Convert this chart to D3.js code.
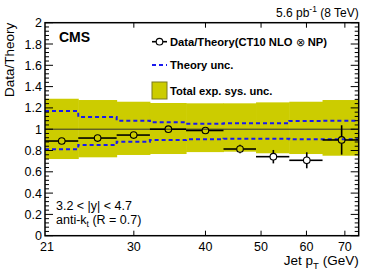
<!DOCTYPE html>
<html>
<head>
<meta charset="utf-8">
<script src="https://cdn.jsdelivr.net/npm/d3@7/dist/d3.min.js"></script>
<style>
  body { margin: 0; background: #fff; }
  svg { display: block; font-family: "Liberation Sans", Arial, sans-serif; }
</style>
</head>
<body>
<svg id="chart" width="374" height="270"></svg>
<script>
// bin edges of the jet pT bins (GeV)
var binEdges = [21, 24, 28, 32, 37, 43, 49, 56, 64, 74];
// data / theory points
var ptCenters = [22.46, 25.94, 29.98, 34.46, 39.99, 45.95, 52.53, 60.07, 69.1];
var ratio     = [0.889, 0.917, 0.945, 1.0, 0.988, 0.814, 0.742, 0.708, 0.899];
var statErr   = [0.012, 0.012, 0.018, 0.03, 0.022, 0.04, 0.063, 0.075, 0.138];
// total experimental systematic band
var sysUp   = [1.286, 1.274, 1.258, 1.246, 1.243, 1.243, 1.252, 1.258, 1.274];
var sysDown = [0.720, 0.736, 0.758, 0.767, 0.785, 0.789, 0.774, 0.767, 0.751];
// theory uncertainty
var thUp   = [1.171, 1.115, 1.080, 1.065, 1.052, 1.055, 1.055, 1.077, 1.080];
var thDown = [0.811, 0.852, 0.883, 0.899, 0.905, 0.911, 0.911, 0.905, 0.905];

var xTickVals = [21, 30, 40, 50, 60, 70];
var yMajor = d3.range(0, 2.0001, 0.2);
var yMinor = d3.range(0, 2.0001, 0.04);

var yellow = "#cccc00";
var blue = "#1a1aee";

var svg = d3.select("#chart");
var pLeft = 45, pRight = 358.7, pTop = 22.7, pBottom = 235.7;

var x = d3.scaleLog().domain([21, 74]).range([pLeft, pRight]);
var y = d3.scaleLinear().domain([0, 2]).range([pBottom, pTop]);

var bins = binEdges.slice(0, -1).map(function(lo, i) {
  return { lo: lo, hi: binEdges[i + 1], up: sysUp[i], down: sysDown[i], tu: thUp[i], td: thDown[i] };
});

// systematic band
svg.append("g").selectAll("rect").data(bins).join("rect")
  .attr("x", d => x(d.lo))
  .attr("width", d => x(d.hi) - x(d.lo) + 0.5)
  .attr("y", d => y(d.up))
  .attr("height", d => y(d.down) - y(d.up))
  .attr("fill", yellow);

// line at unity
svg.append("line")
  .attr("x1", pLeft).attr("x2", pRight)
  .attr("y1", y(1)).attr("y2", y(1))
  .attr("stroke", "#333").attr("stroke-width", 1);

// theory uncertainty, dashed
function stepPath(key) {
  var p = "";
  bins.forEach(function(d, i) {
    p += (i == 0 ? "M" : "L") + x(d.lo) + "," + y(d[key]) + "L" + x(d.hi) + "," + y(d[key]);
  });
  return p;
}
["tu", "td"].forEach(function(k) {
  svg.append("path").attr("d", stepPath(k))
    .attr("fill", "none").attr("stroke", blue)
    .attr("stroke-width", 2).attr("stroke-dasharray", "4,3");
});

// data points
var r = 3.3;
var pts = ptCenters.map(function(c, i) {
  return { c: c, v: ratio[i], e: statErr[i], lo: binEdges[i], hi: binEdges[i + 1] };
});
var gp = svg.append("g").attr("stroke", "#000").attr("stroke-width", 1.6);
pts.forEach(function(d) {
  var cx = x(d.c), cy = y(d.v);
  gp.append("line").attr("x1", x(d.lo)).attr("x2", cx - r).attr("y1", cy).attr("y2", cy);
  gp.append("line").attr("x1", cx + r).attr("x2", x(d.hi)).attr("y1", cy).attr("y2", cy);
  if (y(d.v - d.e) - cy > r) {
    gp.append("line").attr("x1", cx).attr("x2", cx).attr("y1", cy - r).attr("y2", y(d.v + d.e));
    gp.append("line").attr("x1", cx).attr("x2", cx).attr("y1", cy + r).attr("y2", y(d.v - d.e));
  }
  gp.append("circle").attr("cx", cx).attr("cy", cy).attr("r", r)
    .attr("fill", "none").attr("stroke-width", 1.1);
});

// frame
svg.append("rect").attr("x", pLeft).attr("y", pTop)
  .attr("width", pRight - pLeft).attr("height", pBottom - pTop)
  .attr("fill", "none").attr("stroke", "#000").attr("stroke-width", 1.5);

// y ticks (left and right)
var ticks = svg.append("g").attr("stroke", "#000").attr("stroke-width", 1);
yMinor.forEach(function(v, i) {
  var major = i % 5 == 0;
  var len = major ? 8 : 4;
  ticks.append("line").attr("x1", pLeft).attr("x2", pLeft + len).attr("y1", y(v)).attr("y2", y(v));
  ticks.append("line").attr("x1", pRight).attr("x2", pRight - len).attr("y1", y(v)).attr("y2", y(v));
});
// x ticks (bottom and top)
xTickVals.slice(1).forEach(function(v) {
  ticks.append("line").attr("x1", x(v)).attr("x2", x(v)).attr("y1", pBottom).attr("y2", pBottom - 5);
  ticks.append("line").attr("x1", x(v)).attr("x2", x(v)).attr("y1", pTop).attr("y2", pTop + 5);
});

// tick labels
var fmt = d3.format("~g");
svg.append("g").selectAll("text").data(yMajor).join("text")
  .attr("x", 42).attr("y", d => y(d)).attr("dy", "0.36em")
  .attr("text-anchor", "end").attr("font-size", 12.5)
  .text(d => fmt(+d.toFixed(1)));
svg.append("g").selectAll("text").data(xTickVals).join("text")
  .attr("x", d => x(d) + (d == 21 ? 2 : 0)).attr("y", 251)
  .attr("text-anchor", "middle").attr("font-size", 12.5)
  .text(d => d);

// axis titles
svg.append("text")
  .attr("transform", "translate(14," + pTop + ") rotate(-90)")
  .attr("text-anchor", "end").attr("font-size", 13.5)
  .text("Data/Theory");
var xt = svg.append("text").attr("x", pRight).attr("y", 265)
  .attr("text-anchor", "end").attr("font-size", 13.5);
xt.append("tspan").text("Jet p");
xt.append("tspan").attr("font-size", 9.5).attr("dy", 4).text("T");
xt.append("tspan").attr("dy", -4).text(" (GeV)");

// lumi label
var lumi = svg.append("text").attr("x", pRight).attr("y", 17)
  .attr("text-anchor", "end").attr("font-size", 12);
lumi.append("tspan").text("5.6 pb");
lumi.append("tspan").attr("font-size", 8.5).attr("dy", -5).text("-1");
lumi.append("tspan").attr("dy", 5).text(" (8 TeV)");

svg.append("text").attr("x", 59).attr("y", 42)
  .attr("font-size", 14).attr("font-weight", "bold").text("CMS");

// region labels
svg.append("text").attr("x", 56).attr("y", 210).attr("font-size", 12.5).text("3.2 < |y| < 4.7");
var ak = svg.append("text").attr("x", 56).attr("y", 224).attr("font-size", 12.5);
ak.append("tspan").text("anti-k");
ak.append("tspan").attr("font-size", 8.5).attr("dy", 3).text("t");
ak.append("tspan").attr("dy", -3).text(" (R = 0.7)");

// legend
var lg = svg.append("g");
var lx1 = 152, lx2 = 167, tx = 170, lfs = 11.2;
lg.append("line").attr("x1", lx1).attr("x2", lx2).attr("y1", 41.7).attr("y2", 41.7)
  .attr("stroke", "#000").attr("stroke-width", 1.6);
lg.append("circle").attr("cx", (lx1 + lx2) / 2).attr("cy", 41.7).attr("r", r)
  .attr("fill", "#fff").attr("stroke", "#000").attr("stroke-width", 1.1);
var l1 = lg.append("text").attr("x", tx).attr("y", 41.7).attr("dy", "0.36em")
  .attr("font-size", lfs).attr("font-weight", "bold");
l1.append("tspan").text("Data/Theory(CT10 NLO ");
l1.append("tspan").attr("font-weight", "normal").text("\u2297");
l1.append("tspan").text(" NP)");
lg.append("line").attr("x1", lx1).attr("x2", lx2).attr("y1", 65).attr("y2", 65)
  .attr("stroke", blue).attr("stroke-width", 2).attr("stroke-dasharray", "4,3");
lg.append("text").attr("x", tx).attr("y", 65).attr("dy", "0.36em")
  .attr("font-size", lfs).attr("font-weight", "bold").text("Theory unc.");
lg.append("rect").attr("x", lx1).attr("y", 82).attr("width", lx2 - lx1).attr("height", 17)
  .attr("fill", yellow).attr("stroke", "#7a7a20").attr("stroke-width", 1);
lg.append("text").attr("x", tx).attr("y", 90.5).attr("dy", "0.36em")
  .attr("font-size", lfs).attr("font-weight", "bold").text("Total exp. sys. unc.");
</script>
</body>
</html>
